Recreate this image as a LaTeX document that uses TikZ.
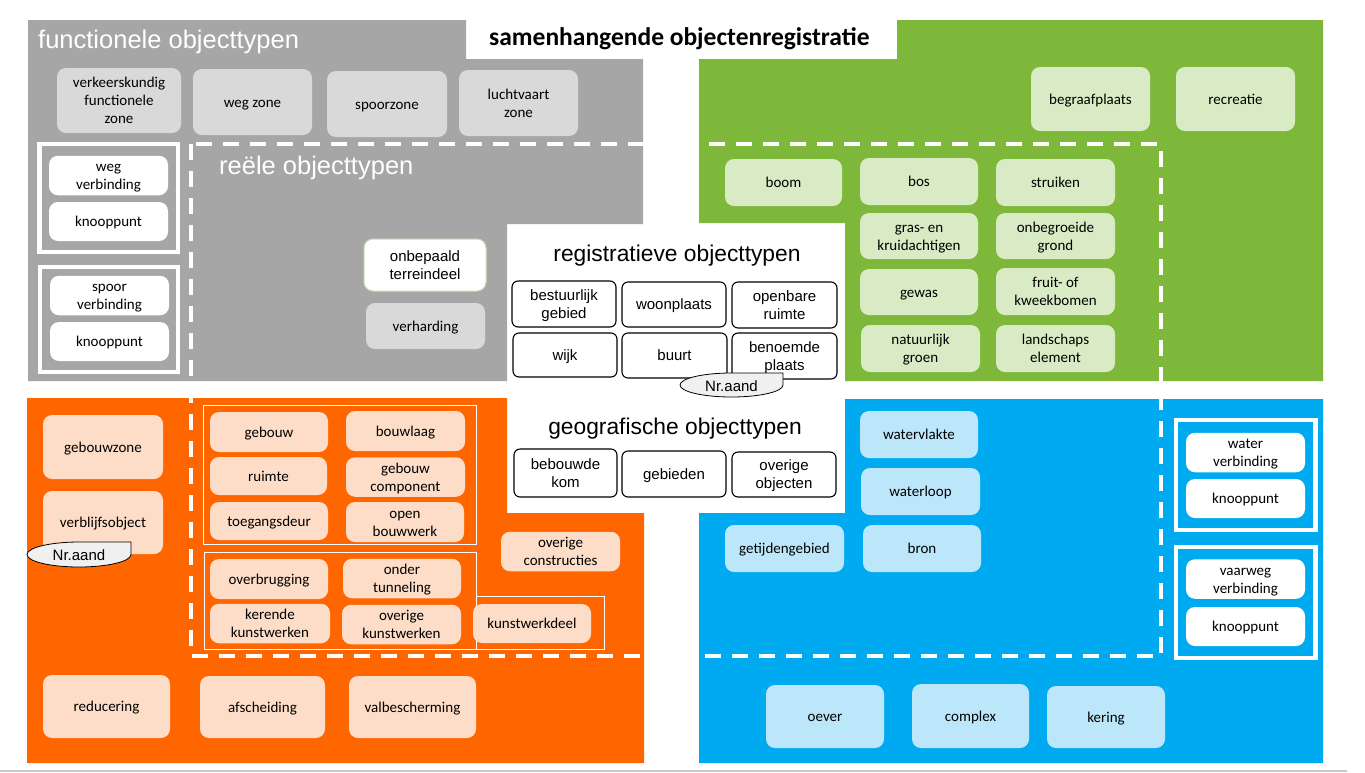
\documentclass[tikz,border=0pt]{standalone}
\usepackage{fontspec}
\setmainfont{Carlito}
\newfontfamily\arialf{Liberation Sans}
\definecolor{reggray}{HTML}{A6A6A6}
\definecolor{boxgray}{HTML}{D9D9D9}
\definecolor{reggreen}{HTML}{7DB83A}
\definecolor{boxgreen}{HTML}{D8EBC4}
\definecolor{regorange}{HTML}{FF6600}
\definecolor{boxorange}{HTML}{FDDDC7}
\definecolor{regblue}{HTML}{00AAF0}
\definecolor{boxblue}{HTML}{BCE7FB}
\definecolor{lightborder}{HTML}{C5E0B4}
\definecolor{nrfill}{HTML}{F0F0F0}
\tikzset{
  basebox/.style={rounded corners=9pt, align=center, inner sep=0pt, text=black,
    font=\fontsize{15}{18}\selectfont},
  graybox/.style={basebox, fill=boxgray},
  whitebox/.style={basebox, fill=white},
  greenbox/.style={basebox, fill=boxgreen},
  orangebox/.style={basebox, fill=boxorange},
  bluebox/.style={basebox, fill=boxblue},
  regbox/.style={basebox, rounded corners=6pt, fill=white, draw=black, line width=1.1pt,
    font=\arialf\fontsize{15}{17.6}\selectfont},
  heading/.style={text=white, inner sep=0pt, font=\arialf\fontsize{25.5}{30}\selectfont},
  subheading/.style={text=black, inner sep=0pt, font=\arialf\fontsize{22.8}{27}\selectfont},
  thickframe/.style={draw=white, line width=4.5pt},
  thinframe/.style={draw=white, line width=1pt},
  dashedframe/.style={draw=white, line width=4pt, dash pattern=on 16pt off 11pt},
  nrshape/.style={draw=black, fill=nrfill, line width=0.8pt},
  nrtext/.style={inner sep=0pt, font=\arialf\fontsize{15}{17}\selectfont}
}
\newcommand\mytopstrut{\rule{0pt}{\dimexpr\ht\strutbox+3.5pt\relax}}
\newcommand\mybox[7]{\node[#1, minimum width={(#5-#3)*1pt}, minimum height={(#6-#4)*1pt}] (#2) at ({(#3+#5)/2},{(#4+#6)/2}) {\mytopstrut#7\strut};}
\begin{document}
\begin{tikzpicture}[x=1pt,y=-1pt]
\useasboundingbox (0,0) rectangle (1365,772);
\fill[white] (0,0) rectangle (1365,772);
% regions
\fill[reggray] (28,20) -- (466,20) -- (466,59) -- (643,59) -- (643,224) -- (507,224) -- (507,381) -- (28,381) -- cycle;
\fill[reggreen] (897,20) -- (1323,20) -- (1323,381) -- (845,381) -- (845,223) -- (699,223) -- (699,59) -- (897,59) -- cycle;
\fill[regorange] (27,398) -- (507,398) -- (507,513) -- (644,513) -- (644,763) -- (27,763) -- cycle;
\fill[regblue] (845,399) -- (1323,399) -- (1323,763) -- (699,763) -- (699,513) -- (845,513) -- cycle;
\draw[color=black!22, line width=1.5pt] (0,771) -- (1347,771);
% dashed frame of real object types
\draw[dashedframe] (191,144) rectangle (1161,656);
% thick frames
\draw[thickframe] (39.5,144) rectangle (178,252);
\draw[thickframe] (40,267) rectangle (178,372);
\draw[thickframe] (1176,420) rectangle (1315.5,530);
\draw[thickframe] (1176,547) rectangle (1315.5,658);
% thin frames
\draw[thinframe] (203,405.5) rectangle (476,544);
\draw[thinframe] (204,552) rectangle (476.5,649);
\draw[thinframe] (476.5,596) rectangle (604,649);
% headings
\node[heading, anchor=base west] (hfunc) at (38,48) {functionele objecttypen};
\node[heading, anchor=base west] (hreel) at (219,174.5) {reële objecttypen};
\node[anchor=base west, inner sep=0pt, font=\bfseries\fontsize{25.5}{30}\selectfont] (title) at (489,45.8) {samenhangende objectenregistratie};
\node[subheading, anchor=base] (hreg) at (677,261.5) {registratieve objecttypen};
\node[subheading, anchor=base] (hgeo) at (675,434.8) {geografische objecttypen};
% gray
\mybox{graybox}{vfz}{57}{68}{181}{133}{verkeerskundig\\functionele\\zone}
\mybox{graybox}{wegzone}{193}{69}{312}{135}{weg zone}
\mybox{graybox}{spoorzone}{327}{71}{447}{137}{spoorzone}
\mybox{graybox}{luchtvaart}{459}{70}{578}{136}{luchtvaart\\zone}
\mybox{whitebox}{wegverb}{49}{156}{168}{195}{weg\\verbinding}
\mybox{whitebox}{knoopa}{49}{202}{168}{241}{knooppunt}
\mybox{whitebox}{spoorverb}{50}{276}{169}{315}{spoor\\verbinding}
\mybox{whitebox}{knoopb}{50}{322}{169}{361}{knooppunt}
\mybox{whitebox, draw=lightborder, line width=1pt, font=\arialf\fontsize{15}{17.6}\selectfont}{onbepaald}{364}{239}{486}{291}{onbepaald\\terreindeel}
\mybox{graybox}{verharding}{366}{303}{485}{349}{verharding}
% green
\mybox{greenbox}{begraafplaats}{1031}{67}{1150}{131}{begraafplaats}
\mybox{greenbox}{recreatie}{1176}{67}{1295}{131}{recreatie}
\mybox{greenbox}{boom}{725}{159}{842}{206}{boom}
\mybox{greenbox}{bos}{860}{158}{978}{205}{bos}
\mybox{greenbox}{struiken}{996}{159}{1115}{206}{struiken}
\mybox{greenbox}{gras}{860}{213}{978}{259}{gras- en\\kruidachtigen}
\mybox{greenbox}{onbegroeid}{996}{213}{1115}{259}{onbegroeide\\grond}
\mybox{greenbox}{gewas}{860}{269}{978}{315}{gewas}
\mybox{greenbox}{fruit}{996}{268}{1115}{315}{fruit- of\\kweekbomen}
\mybox{greenbox}{natuurlijk}{861}{325}{980}{372}{natuurlijk\\groen}
\mybox{greenbox}{landschaps}{996}{325}{1115}{372}{landschaps\\element}
% registratieve / geografische
\mybox{regbox}{bestuurlijk}{512}{281}{616}{327}{bestuurlijk\\gebied}
\mybox{regbox}{woonplaats}{622}{282}{726}{327}{woonplaats}
\mybox{regbox}{openbare}{732}{282}{837}{328}{openbare\\ruimte}
\mybox{regbox}{wijk}{513}{333}{617}{377}{wijk}
\mybox{regbox}{buurt}{622}{333}{727}{378}{buurt}
\mybox{regbox}{benoemde}{732}{333}{837}{379}{benoemde\\plaats}
\mybox{regbox}{bebouwde}{514}{449}{617}{497}{bebouwde\\kom}
\mybox{regbox}{gebieden}{622}{451}{726}{497}{gebieden}
\mybox{regbox}{overigeobj}{732}{452}{836}{497}{overige\\objecten}
\draw[nrshape] (731.5,373) -- (783,373) -- (783,385) arc[start angle=0, end angle=-270, x radius=51.5pt, y radius=12pt] -- cycle;
\node[nrtext] (nra) at (731.5,386) {Nr.aand};
% orange
\mybox{orangebox}{gebouwzone}{43}{415}{163}{479}{gebouwzone}
\mybox{orangebox}{verblijfsobject}{43}{491}{163}{554}{verblijfsobject}
\draw[nrshape] (79,542) -- (131,542) -- (131,554.5) arc[start angle=0, end angle=-270, x radius=52pt, y radius=12.5pt] -- cycle;
\node[nrtext] (nrb) at (79,555) {Nr.aand};
\mybox{orangebox}{gebouw}{210}{412}{328}{452}{gebouw}
\mybox{orangebox}{bouwlaag}{346}{411}{465}{451}{bouwlaag}
\mybox{orangebox}{ruimte}{210}{457}{327}{495}{ruimte}
\mybox{orangebox}{gebouwcomp}{346}{458}{465}{496}{gebouw\\component}
\mybox{orangebox}{toegangsdeur}{210}{502}{328}{540}{toegangsdeur}
\mybox{orangebox}{openbouw}{346}{502}{464}{542}{open\\bouwwerk}
\mybox{orangebox}{overbrugging}{210}{559}{328}{599}{overbrugging}
\mybox{orangebox}{onder}{343}{559}{461}{598}{onder\\tunneling}
\mybox{orangebox}{kerende}{210}{604}{330}{643}{kerende\\kunstwerken}
\mybox{orangebox}{overigekw}{342}{605}{461}{644}{overige\\kunstwerken}
\mybox{orangebox}{kunstwerkdeel}{473}{604}{591}{643}{kunstwerkdeel}
\mybox{orangebox}{overigeconst}{501}{532}{620}{571}{overige\\constructies}
\mybox{orangebox}{reducering}{43}{675}{170}{738}{reducering}
\mybox{orangebox}{afscheiding}{200}{676}{325}{738}{afscheiding}
\mybox{orangebox}{valbescherming}{349}{676}{476}{738}{valbescherming}
% blue
\mybox{bluebox}{watervlakte}{860}{411}{978}{458}{watervlakte}
\mybox{bluebox}{waterloop}{861}{468}{980}{515}{waterloop}
\mybox{bluebox}{getijden}{725}{525}{844}{572}{getijdengebied}
\mybox{bluebox}{bron}{863}{525}{981}{572}{bron}
\mybox{whitebox}{waterverb}{1186}{433}{1305}{472}{water\\verbinding}
\mybox{whitebox}{knoopc}{1186}{479}{1305}{518}{knooppunt}
\mybox{whitebox}{vaarweg}{1186}{560}{1305}{598}{vaarweg\\verbinding}
\mybox{whitebox}{knoopd}{1186}{607}{1305}{646}{knooppunt}
\mybox{bluebox}{oever}{766}{685}{884}{748}{oever}
\mybox{bluebox}{complex}{912}{684}{1029}{748}{complex}
\mybox{bluebox}{kering}{1047}{686}{1165}{748}{kering}
\end{tikzpicture}
\end{document}
